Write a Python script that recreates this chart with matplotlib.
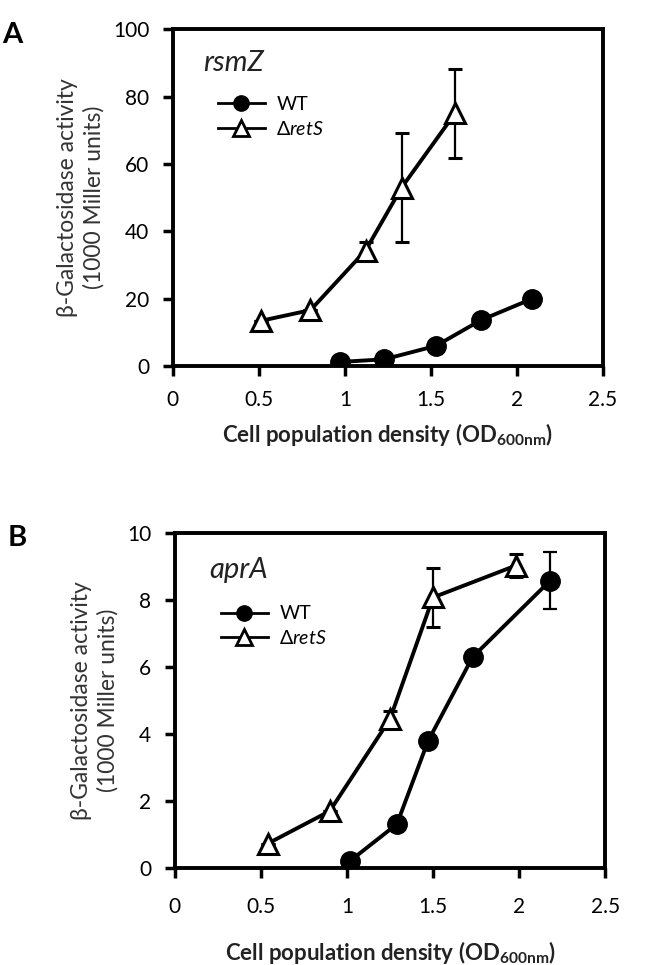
import matplotlib
matplotlib.use('Agg')
import matplotlib.pyplot as plt
from matplotlib.lines import Line2D

plt.rcParams['font.family'] = ['Lato', 'DejaVu Sans']
plt.rcParams['mathtext.fontset'] = 'custom'
plt.rcParams['mathtext.rm'] = 'Lato'
plt.rcParams['mathtext.it'] = 'Lato:italic'
plt.rcParams['mathtext.bf'] = 'Lato:bold'

# panel A: rsmZ
a_wt_x = [0.97, 1.23, 1.53, 1.79, 2.09]
a_wt_y = [1.2, 2.0, 6.0, 13.6, 20.0]
a_wt_err = [0, 0, 0, 0, 0]
a_ret_x = [0.51, 0.80, 1.12, 1.33, 1.64]
a_ret_y = [13.4, 16.6, 34.3, 53.0, 75.0]
a_ret_err = [0, 0, 2.5, 16.2, 13.3]

# panel B: aprA
b_wt_x = [1.02, 1.29, 1.47, 1.73, 2.18]
b_wt_y = [0.22, 1.31, 3.78, 6.3, 8.58]
b_wt_err = [0, 0, 0, 0, 0.85]
b_ret_x = [0.54, 0.90, 1.25, 1.50, 1.98]
b_ret_y = [0.73, 1.70, 4.45, 8.08, 9.03]
b_ret_err = [0, 0, 0.25, 0.87, 0.35]

x_ticks = [0, 0.5, 1, 1.5, 2, 2.5]
x_ticklabels = ['0', '0.5', '1', '1.5', '2', '2.5']
ret_label = r'$\Delta\mathit{retS}$'

fig = plt.figure(figsize=(6.5, 9.65), dpi=100)
axA = fig.add_axes([0.266, 0.6207, 0.6615, 0.349])
axB = fig.add_axes([0.269, 0.1005, 0.662, 0.347])


def draw(ax, wt_x, wt_y, wt_err, ret_x, ret_y, ret_err, ymax, ystep, gene,
         gene_pos, leg_pos, xpad):
    ax.errorbar(wt_x, wt_y, yerr=wt_err, color='black', lw=2.8, marker='o',
                ms=14, mfc='black', mec='black', capsize=5, capthick=1.6,
                elinewidth=1.6, zorder=3)
    ax.errorbar(ret_x, ret_y, yerr=ret_err, color='black', lw=2.8, marker='^',
                ms=14, mfc='white', mec='black', mew=2.2, capsize=5,
                capthick=1.6, elinewidth=1.6, zorder=4)
    ax.set_xlim(0, 2.5)
    ax.set_ylim(0, ymax)
    ax.set_xticks(x_ticks)
    ax.set_xticklabels(x_ticklabels)
    ax.set_yticks([i * ystep for i in range(6)])
    ax.set_yticklabels([str(int(i * ystep)) for i in range(6)])
    for s in ax.spines.values():
        s.set_linewidth(2.8)
    ax.tick_params(direction='out', length=7, width=2.5, labelsize=15, pad=10)
    ax.tick_params(axis='x', pad=xpad)
    ax.set_ylabel('β-Galactosidase activity\n(1000 Miller units)',
                  fontsize=16.5, color='#333333', labelpad=6, linespacing=1.3)
    ax.text(gene_pos[0], gene_pos[1], gene, transform=ax.transAxes,
            fontsize=21, style='italic', color='#222222', va='center')
    handles = [
        Line2D([], [], color='black', lw=2, marker='o', ms=11, mfc='black'),
        Line2D([], [], color='black', lw=2, marker='^', ms=11, mfc='white',
               mew=2),
    ]
    ax.legend(handles, ['WT', ret_label], loc='center left',
              bbox_to_anchor=leg_pos, frameon=False, fontsize=14,
              handlelength=2.4, labelspacing=0.35, handletextpad=0.6,
              borderpad=0, borderaxespad=0)


draw(axA, a_wt_x, a_wt_y, a_wt_err, a_ret_x, a_ret_y, a_ret_err, 100, 20,
     'rsmZ', (0.07, 0.90), (0.105, 0.74), 10)
draw(axB, b_wt_x, b_wt_y, b_wt_err, b_ret_x, b_ret_y, b_ret_err, 10, 2,
     'aprA', (0.08, 0.89), (0.107, 0.722), 14)

xlab = r'Cell population density (OD$_{\mathbf{600nm}}$)'
axA.set_xlabel(xlab, fontsize=16, fontweight='bold', labelpad=8,
               color='#222222')
axB.set_xlabel(xlab, fontsize=16, fontweight='bold', labelpad=16,
               color='#222222')

fig.text(0.003, 1 - 22 / 965, 'A', fontsize=21, fontweight='bold', va='top')
fig.text(0.011, 1 - 525 / 965, 'B', fontsize=21, fontweight='bold', va='top')

fig.savefig('out.png', dpi=100)
